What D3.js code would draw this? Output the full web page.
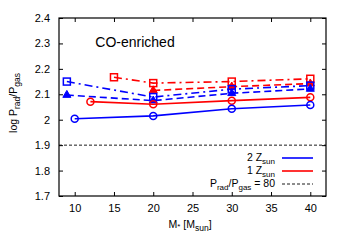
<!DOCTYPE html>
<html>
<head>
<meta charset="utf-8">
<script src="https://cdn.jsdelivr.net/npm/d3@7"></script>
<style>
  body { margin: 0; background: #fff; }
  svg { font-family: "Liberation Sans", Arial, sans-serif; }
</style>
</head>
<body>
<div id="chart"></div>
<script>
// data
const blueCircleMass = [10, 20, 30, 40];
const blueCircleVal = [2.004, 2.015, 2.043, 2.058];
const redCircleMass = [12, 20, 30, 40];
const redCircleVal = [2.071, 2.061, 2.075, 2.088];
const blueSquareMass = [9, 20, 30, 40];
const blueSquareVal = [2.150, 2.089, 2.120, 2.134];
const blueTriMass = [9, 20, 30, 40];
const blueTriVal = [2.097, 2.075, 2.104, 2.121];
const redSquareMass = [15, 20, 30, 40];
const redSquareVal = [2.167, 2.144, 2.150, 2.161];
const redTriMass = [20, 30, 40];
const redTriVal = [2.115, 2.130, 2.142];
const thresholdVal = 1.9;
const xTicks = [10, 15, 20, 25, 30, 35, 40];
const yTicks = [1.7, 1.8, 1.9, 2, 2.1, 2.2, 2.3, 2.4];

const width = 351, height = 248;
const margin = { left: 59, right: 25, top: 18, bottom: 52 };
const innerW = width - margin.left - margin.right;
const innerH = height - margin.top - margin.bottom;

const svg = d3.select('#chart').append('svg')
  .attr('width', width).attr('height', height);

const x = d3.scaleLinear().domain([8, 42]).range([margin.left, margin.left + innerW]);
const y = d3.scaleLinear().domain([1.7, 2.4]).range([margin.top + innerH, margin.top]);

// ticks on all four sides, pointing inward
const tickLen = 4;
const axisG = svg.append('g');
axisG.append('g')
  .attr('transform', `translate(0,${margin.top + innerH})`)
  .call(d3.axisBottom(x).tickValues(xTicks).tickSizeInner(-tickLen).tickSizeOuter(0).tickPadding(8).tickFormat(d3.format('d')));
axisG.append('g')
  .attr('transform', `translate(0,${margin.top})`)
  .call(d3.axisTop(x).tickValues(xTicks).tickSizeInner(-tickLen).tickSizeOuter(0).tickFormat(''));
axisG.append('g')
  .attr('transform', `translate(${margin.left},0)`)
  .call(d3.axisLeft(y).tickValues(yTicks).tickSizeInner(-tickLen).tickSizeOuter(0).tickPadding(9).tickFormat(d => d === 2 ? '2' : d3.format('.1f')(d)));
axisG.append('g')
  .attr('transform', `translate(${margin.left + innerW},0)`)
  .call(d3.axisRight(y).tickValues(yTicks).tickSizeInner(-tickLen).tickSizeOuter(0).tickFormat(''));
axisG.selectAll('.domain').remove();
axisG.selectAll('.tick line').attr('stroke', '#000').attr('stroke-width', 1);
axisG.selectAll('.tick text').attr('font-size', 11).attr('fill', '#000');

// threshold line
svg.append('line')
  .attr('x1', margin.left).attr('x2', margin.left + innerW)
  .attr('y1', y(thresholdVal)).attr('y2', y(thresholdVal))
  .attr('stroke', '#000').attr('stroke-width', 0.9).attr('stroke-dasharray', '3,2');

const line = d3.line().x(d => x(d[0])).y(d => y(d[1]));

const series = [
  { mass: redSquareMass, val: redSquareVal, color: '#ff0000', dash: '8,4,2,4', marker: 'square' },
  { mass: redTriMass, val: redTriVal, color: '#ff0000', dash: '7,4', marker: 'triangle' },
  { mass: blueSquareMass, val: blueSquareVal, color: '#0000ff', dash: '8,4,2,4', marker: 'square' },
  { mass: blueTriMass, val: blueTriVal, color: '#0000ff', dash: '7,4', marker: 'triangle' },
  { mass: redCircleMass, val: redCircleVal, color: '#ff0000', dash: null, marker: 'circle' },
  { mass: blueCircleMass, val: blueCircleVal, color: '#0000ff', dash: null, marker: 'circle' }
];

const plotG = svg.append('g');
series.forEach(s => {
  const pts = s.mass.map((m, i) => [m, s.val[i]]);
  plotG.append('path')
    .datum(pts)
    .attr('d', line)
    .attr('fill', 'none')
    .attr('stroke', s.color)
    .attr('stroke-width', 1.6)
    .attr('stroke-dasharray', s.dash);
  const g = plotG.append('g');
  pts.forEach(p => {
    const cx = x(p[0]), cy = y(p[1]);
    if (s.marker === 'circle') {
      g.append('circle').attr('cx', cx).attr('cy', cy).attr('r', 3.5)
        .attr('fill', 'none').attr('stroke', s.color).attr('stroke-width', 1.5);
    } else if (s.marker === 'square') {
      g.append('rect').attr('x', cx - 3.5).attr('y', cy - 3.5).attr('width', 7).attr('height', 7)
        .attr('fill', 'none').attr('stroke', s.color).attr('stroke-width', 1.5);
    } else {
      g.append('path')
        .attr('d', d3.symbol().type(d3.symbolTriangle).size(28)())
        .attr('transform', `translate(${cx},${cy})`)
        .attr('fill', s.color).attr('stroke', s.color).attr('stroke-width', 1);
    }
  });
});

// frame
svg.append('rect')
  .attr('x', margin.left).attr('y', margin.top)
  .attr('width', innerW).attr('height', innerH)
  .attr('fill', 'none').attr('stroke', '#000').attr('stroke-width', 1.2);

// panel title
svg.append('text')
  .attr('x', 135).attr('y', 47)
  .attr('text-anchor', 'middle').attr('font-size', 14)
  .text('CO-enriched');

// legend
const legend = [
  { label: ['2 Z', 'sun', ''], color: '#0000ff', dash: null, w: 1.6 },
  { label: ['1 Z', 'sun', ''], color: '#ff0000', dash: null, w: 1.6 },
  { label: null, color: '#000', dash: '3,2', w: 0.9 }
];
legend.forEach((l, i) => {
  const ly = 158 + i * 13;
  const t = svg.append('text')
    .attr('x', 275).attr('y', ly + 3)
    .attr('text-anchor', 'end').attr('font-size', 10.5);
  if (l.label) {
    t.append('tspan').text(l.label[0]);
    t.append('tspan').attr('dy', 2.5).attr('font-size', 8).text(l.label[1]);
  } else {
    t.append('tspan').text('P');
    t.append('tspan').attr('dy', 2.5).attr('font-size', 8).text('rad');
    t.append('tspan').attr('dy', -2.5).text('/P');
    t.append('tspan').attr('dy', 2.5).attr('font-size', 8).text('gas');
    t.append('tspan').attr('dy', -2.5).text(' = 80');
  }
  svg.append('line')
    .attr('x1', 282).attr('x2', 313).attr('y1', ly).attr('y2', ly)
    .attr('stroke', l.color).attr('stroke-width', l.w)
    .attr('stroke-dasharray', l.dash);
});

// axis titles
const xl = svg.append('text')
  .attr('x', 190).attr('y', 228)
  .attr('text-anchor', 'middle').attr('font-size', 10.5);
xl.append('tspan').text('M');
xl.append('tspan').attr('font-size', 8).attr('dy', 1).text('*');
xl.append('tspan').attr('dy', -1).text(' [M');
xl.append('tspan').attr('dy', 3).attr('font-size', 8.5).text('sun');
xl.append('tspan').attr('dy', -3).text(']');

const yl = svg.append('text')
  .attr('transform', `translate(17,103) rotate(-90)`)
  .attr('text-anchor', 'middle').attr('font-size', 10.5);
yl.append('tspan').text('log P');
yl.append('tspan').attr('dy', 3).attr('font-size', 8.5).text('rad');
yl.append('tspan').attr('dy', -3).text('/P');
yl.append('tspan').attr('dy', 3).attr('font-size', 8.5).text('gas');
</script>
</body>
</html>
